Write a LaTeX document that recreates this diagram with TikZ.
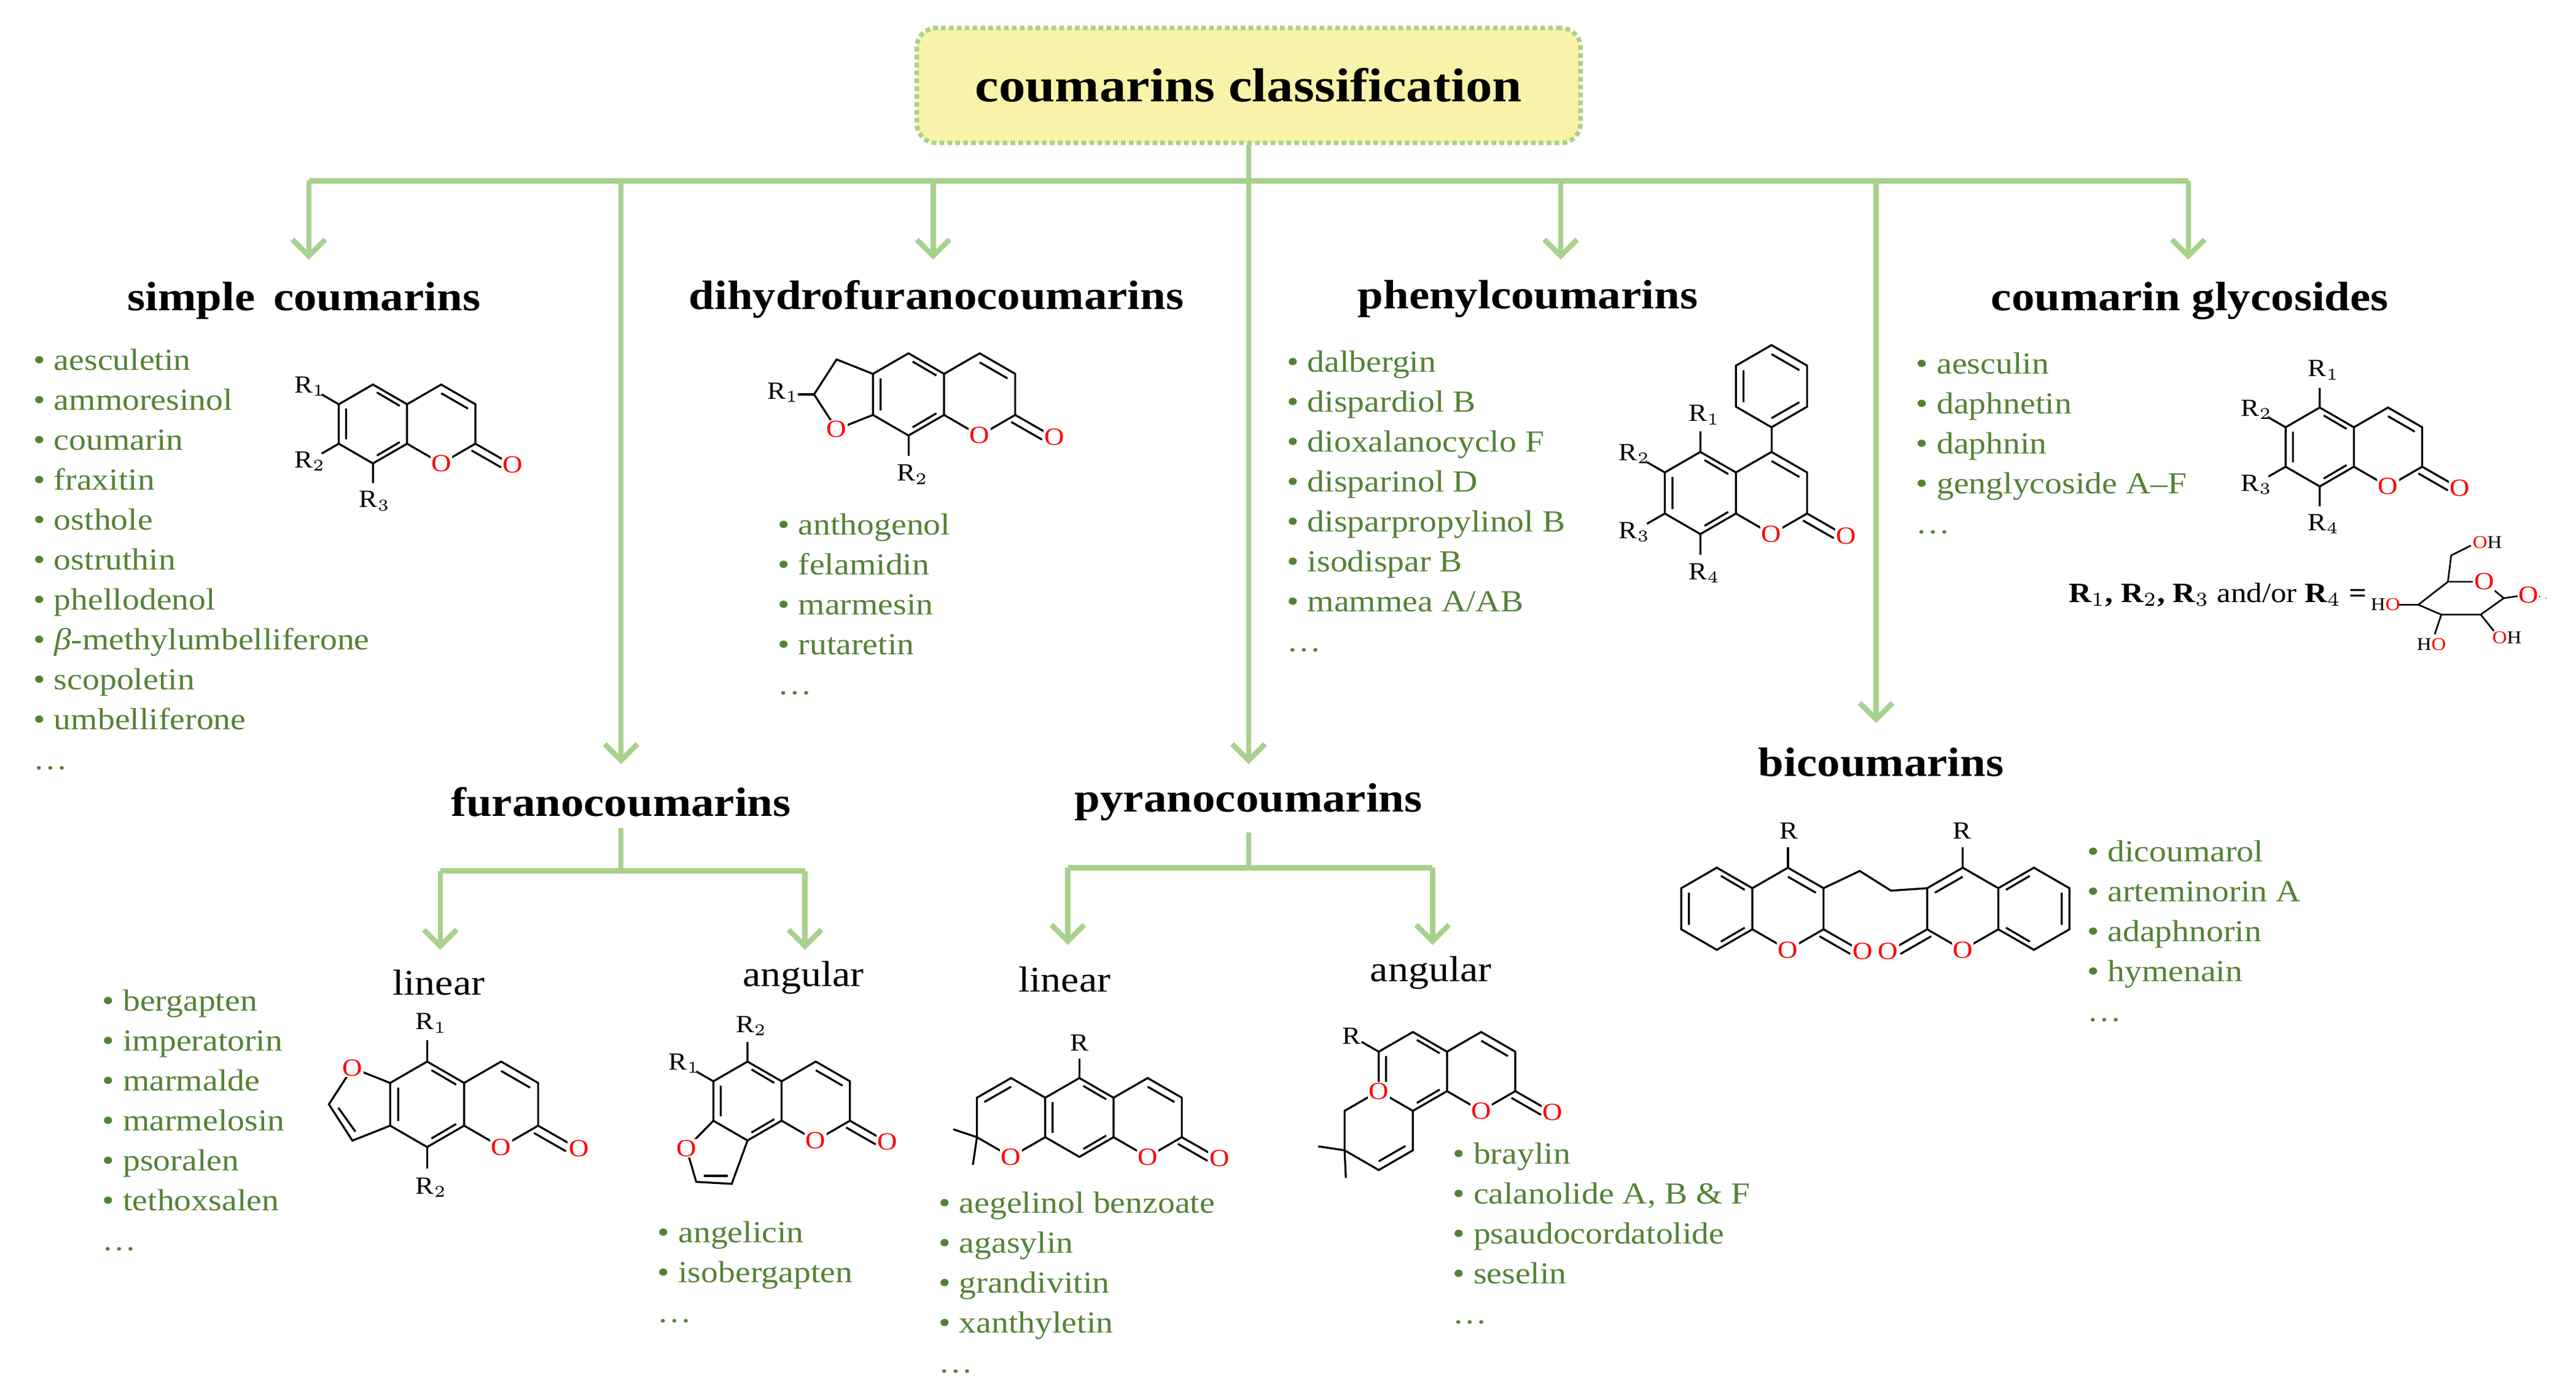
\documentclass[tikz,border=0pt]{standalone}
\usepackage{fontspec}
\setmainfont{Liberation Serif}[FakeStretch=1.12]
\usetikzlibrary{arrows.meta}
\definecolor{lg}{HTML}{A9D18E}
\definecolor{tg}{HTML}{548235}
\definecolor{ty}{HTML}{F8F3A8}
\newcommand\ox[2]{\node[ox] at (#1) {#2};}
\newcommand\cskel{%
 \draw (0,1)--(0.866,0.5)--(0.866,-0.5)--(0,-1)--(-0.866,-0.5)--(-0.866,0.5)--cycle;
 \draw (0.866,0.5)--(1.732,1)--(2.598,0.5)--(2.598,-0.5)--(1.732,-1)--(0.866,-0.5);
 \draw (-0.68,-0.39)--(-0.68,0.39) (0.1,0.8)--(0.68,0.46) (0.68,-0.46)--(0.1,-0.8)
       (1.732,0.78)--(2.41,0.39);
 \draw (2.598,-0.5)--(3.35,-0.93) (2.5,-0.67)--(3.25,-1.1);
 \ox{1.732,-1}{O}\ox{3.55,-1.04}{O}}
\tikzset{
 ox/.style={text=red,fill=white,inner sep=0.3pt,font=\fontsize{7.5}{7.5}\selectfont},
 rl/.style={inner sep=0.5pt,font=\fontsize{7.5}{7.5}\selectfont},
 conn/.style={draw=lg,line width=1.6pt},
 arr/.style={conn,-{Straight Barb[length=5pt,width=10pt,line width=1.6pt]}},
 head/.style={font=\fontsize{12.5}{14}\selectfont\bfseries},
 sub/.style={font=\fontsize{11}{13}\selectfont},
 lst/.style={anchor=north west,align=left,text=tg,inner sep=0pt,font=\fontsize{9.3}{12.15}\selectfont},
 st/.style={line width=0.6pt}
}
\begin{document}
\begin{tikzpicture}[x=0.5pt,y=-0.5pt]
\useasboundingbox (0,0) rectangle (1568,848);
% title
\node[draw=lg,densely dotted,line width=1.4pt,fill=ty,rounded corners=6pt,minimum width=202pt,minimum height=35pt,font=\fontsize{14.5}{16}\selectfont\bfseries] (title) at (760,52) {coumarins classification};
% headings
\node[head] (h1) at (185,183) {simple\, coumarins};
\node[head] (h2) at (570,182) {dihydrofuranocoumarins};
\node[head] (h3) at (930,182) {phenylcoumarins};
\node[head] (h4) at (1333,183) {coumarin glycosides};
\node[head] (h5) at (378,488) {furanocoumarins};
\node[head] (h6) at (760,488) {pyranocoumarins};
\node[head] (h7) at (1145,464) {bicoumarins};
\node[sub] (s1) at (267,598) {linear};
\node[sub] (s2) at (489,595) {angular};
\node[sub] (s3) at (648,596) {linear};
\node[sub] (s4) at (871,592) {angular};
% connectors
\coordinate (j0) at (760,110);
\coordinate (jl) at (188,110); \coordinate (jr) at (1332,110);
\coordinate (b2) at (378,110); \coordinate (b3) at (568,110);
\coordinate (b5) at (950,110); \coordinate (b6) at (1142,110);
\draw[conn] (title.south) -- (j0);
\draw[conn] (jl) -- (jr);
\draw[arr] (jl) -- ++(0,48);
\draw[arr] (b3) -- ++(0,48);
\draw[arr] (b5) -- ++(0,48);
\draw[arr] (jr) -- ++(0,48);
\draw[arr] (b2) -- (378,465);
\draw[arr] (j0) -- (760,465);
\draw[arr] (b6) -- (1142,440);
\coordinate (f0) at (378,530); \coordinate (fl) at (268,530); \coordinate (fr) at (490,530);
\draw[conn] (h5.south) -- (f0); \draw[conn] (fl) -- (fr);
\draw[arr] (fl) -- (268,578); \draw[arr] (fr) -- (490,578);
\coordinate (p0) at (760,528); \coordinate (pl) at (650,528); \coordinate (pr) at (872,528);
\draw[conn] (h6.south) -- (p0); \draw[conn] (pl) -- (pr);
\draw[arr] (pl) -- (650,575); \draw[arr] (pr) -- (872,575);
% lists
\node[lst] (l1) at (20,212) {• aesculetin\\• ammoresinol\\• coumarin\\• fraxitin\\• osthole\\• ostruthin\\• phellodenol\\• \textit{β}-methylumbelliferone\\• scopoletin\\• umbelliferone\\…};
\node[lst] (l2) at (473,312) {• anthogenol\\• felamidin\\• marmesin\\• rutaretin\\…};
\node[lst] (l3) at (783,213) {• dalbergin\\• dispardiol B\\• dioxalanocyclo F\\• disparinol D\\• disparpropylinol B\\• isodispar B\\• mammea A/AB\\…};
\node[lst] (l4) at (1166,214) {• aesculin\\• daphnetin\\• daphnin\\• genglycoside A–F\\…};
\node[lst] (l5) at (62,602) {• bergapten\\• imperatorin\\• marmalde\\• marmelosin\\• psoralen\\• tethoxsalen\\…};
\node[lst] (l6) at (400,743) {• angelicin\\• isobergapten\\…};
\node[lst] (l7) at (571,725) {• aegelinol benzoate\\• agasylin\\• grandivitin\\• xanthyletin\\…};
\node[lst] (l8) at (884,695) {• braylin\\• calanolide A, B \& F\\• psaudocordatolide\\• seselin\\…};
\node[lst] (l9) at (1270,511) {• dicoumarol\\• arteminorin A\\• adaphnorin\\• hymenain\\…};
% 1 simple coumarin
\begin{scope}[shift={(227,258)},x=12pt,y=12pt,st]
\cskel
\draw (-0.866,0.5)--(-1.3,0.75) (-0.866,-0.5)--(-1.3,-0.75) (0,-1)--(0,-1.5);
\node[rl] at (-1.6,0.95) {R$_1$}; \node[rl] at (-1.6,-0.95) {R$_2$}; \node[rl] at (0.05,-1.95) {R$_3$};
\end{scope}
% 2 dihydrofurano
\begin{scope}[shift={(553,240)},x=12.5pt,y=12.5pt,st]
\cskel
\draw (-0.866,0.5)--(-1.75,0.85)--(-2.3,0)--(-1.75,-0.85)--(-0.866,-0.5);
\draw (-2.3,0)--(-2.7,0);
\ox{-1.75,-0.85}{O}
\node[rl] at (-3.05,0.05) {R$_1$};
\draw (0,-1)--(0,-1.5); \node[rl] at (0.1,-1.95) {R$_2$};
\end{scope}
% 3 phenyl
\begin{scope}[shift={(1035,300)},x=12.5pt,y=12.5pt,st]
\cskel
\draw (1.732,1)--(1.732,1.6);
\draw (1.732,1.6)--(2.598,2.1)--(2.598,3.1)--(1.732,3.6)--(0.866,3.1)--(0.866,2.1)--cycle;
\draw (1.732,1.82)--(2.41,2.21) (2.41,2.99)--(1.732,3.38) (1.05,2.99)--(1.05,2.21);
\draw (0,1)--(0,1.5) (-0.866,0.5)--(-1.3,0.75) (-0.866,-0.5)--(-1.3,-0.75) (0,-1)--(0,-1.5);
\node[rl] at (0.1,1.9) {R$_1$}; \node[rl] at (-1.6,0.95) {R$_2$}; \node[rl] at (-1.6,-0.95) {R$_3$}; \node[rl] at (0.1,-1.95) {R$_4$};
\end{scope}
% 4 glycoside
\begin{scope}[shift={(1412,272)},x=12pt,y=12pt,st]
\cskel
\draw (0,1)--(0,1.5) (-0.866,0.5)--(-1.3,0.75) (-0.866,-0.5)--(-1.3,-0.75) (0,-1)--(0,-1.5);
\node[rl] at (0.1,1.95) {R$_1$}; \node[rl] at (-1.6,0.95) {R$_2$}; \node[rl] at (-1.6,-0.95) {R$_3$}; \node[rl] at (0.1,-1.95) {R$_4$};
\end{scope}
\node[font=\fontsize{8.5}{9}\selectfont\bfseries] (rr) at (1350,362) {R$_1$, R$_2$, R$_3$ \textmd{and/or} R$_4$ =};
\begin{scope}[shift={(1490,362)},x=10pt,y=10pt,line width=0.5pt]
\draw (-0.9,-0.3)--(-0.2,-0.6)--(1.0,-0.6)--(1.7,-0.1)--(1.1,0.4)--(0,0.4)--cycle;
\draw (1.7,-0.1)--(2.4,0) (0,0.4)--(0.1,1.2)--(0.7,1.5) (-0.9,-0.3)--(-1.5,-0.3) (-0.2,-0.6)--(-0.4,-1.2) (1.0,-0.6)--(1.4,-1.1);
\draw[dotted] (2.5,0)--(3,-0.1);
\ox{1.1,0.4}{O}\ox{2.45,0}{O}
\node[font=\fontsize{5.5}{6}\selectfont] at (1.2,1.6) {\textcolor{red}{O}H};
\node[font=\fontsize{5.5}{6}\selectfont] at (-1.9,-0.3) {H\textcolor{red}{O}};
\node[font=\fontsize{5.5}{6}\selectfont] at (-0.5,-1.5) {H\textcolor{red}{O}};
\node[font=\fontsize{5.5}{6}\selectfont] at (1.8,-1.3) {\textcolor{red}{O}H};
\end{scope}
% 5 furano linear
\begin{scope}[shift={(260,672)},x=13pt,y=13pt,st]
\cskel
\draw (-0.866,0.5)--(-1.75,0.85)--(-2.3,0)--(-1.75,-0.85)--(-0.866,-0.5);
\draw (-2.08,-0.08)--(-1.68,-0.64);
\ox{-1.75,0.85}{O}
\draw (0,1)--(0,1.5) (0,-1)--(0,-1.5);
\node[rl] at (0.1,1.9) {R$_1$}; \node[rl] at (0.1,-1.95) {R$_2$};
\end{scope}
% 6 furano angular
\begin{scope}[shift={(455,670)},x=12pt,y=12pt,st]
\cskel
\draw (-0.866,-0.5)--(-1.55,-1.2)--(-1.3,-2.05)--(-0.4,-2.1)--(0,-1);
\draw (-1.1,-1.9)--(-0.5,-1.9);
\ox{-1.55,-1.2}{O}
\draw (0,1)--(0,1.5) (-0.866,0.5)--(-1.3,0.75);
\node[rl] at (0.1,1.9) {R$_2$}; \node[rl] at (-1.6,0.95) {R$_1$};
\end{scope}
% 7 pyrano linear
\begin{scope}[shift={(657,680)},x=12pt,y=12pt,st]
\cskel
\draw (-0.866,0.5)--(-1.732,1)--(-2.598,0.5)--(-2.598,-0.5)--(-1.732,-1)--(-0.866,-0.5);
\draw (-1.732,0.78)--(-2.41,0.39);
\draw (-2.598,-0.5)--(-3.2,-0.3) (-2.598,-0.5)--(-2.7,-1.2);
\ox{-1.732,-1}{O}
\draw (0,1)--(0,1.5); \node[rl] at (0,1.9) {R};
\end{scope}
% 8 pyrano angular
\begin{scope}[shift={(860,652)},x=12pt,y=12pt,st]
\cskel
\draw (-0.866,-0.5)--(-1.732,-1)--(-1.732,-2)--(-0.866,-2.5)--(0,-2)--(0,-1);
\draw (-0.866,-2.28)--(-0.19,-1.89);
\draw (-1.732,-2)--(-2.4,-1.9) (-1.732,-2)--(-1.7,-2.7);
\ox{-0.866,-0.5}{O}
\draw (-0.866,0.5)--(-1.3,0.75); \node[rl] at (-1.55,0.9) {R};
\end{scope}
% 9 bicoumarin
\begin{scope}[shift={(1045,553)},x=12.5pt,y=12.5pt,st]
\cskel
\draw (1.732,1)--(1.732,1.5); \node[rl] at (1.75,1.9) {R};
\coordinate (c3a) at (2.598,0.5);
\end{scope}
\begin{scope}[shift={(1238,553)},x=-12.5pt,y=12.5pt,st]
\cskel
\draw (1.732,1)--(1.732,1.5); \node[rl] at (1.75,1.9) {R};
\coordinate (c3b) at (2.598,0.5);
\end{scope}
\coordinate (ch2a) at (1132,530); \coordinate (ch2b) at (1151,542);
\draw[st] (c3a) -- (ch2a) -- (ch2b) -- (c3b);
\end{tikzpicture}
\end{document}
